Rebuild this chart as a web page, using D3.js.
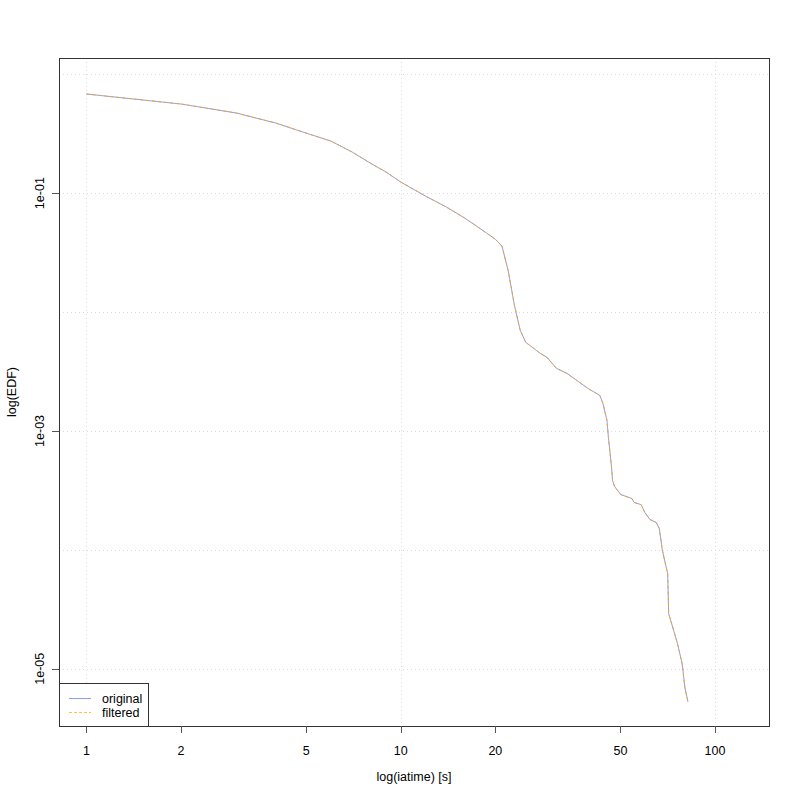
<!DOCTYPE html>
<html>
<head>
<meta charset="utf-8">
<script src="https://cdn.jsdelivr.net/npm/d3@7"></script>
<style>
  body { margin: 0; background: #fff; }
  svg { font-family: "Liberation Sans", Arial, sans-serif; }
</style>
</head>
<body>
<div id="chart"></div>
<script>
var iatime = [1, 2, 3, 4, 5, 6, 7, 8, 9, 10, 12, 14, 16, 18, 20, 21, 22, 23, 24, 25, 27.8, 29.2, 31.3, 33.8, 36.7, 39.4,
  43, 44, 45.3, 45.8, 46.9, 47.2, 47.9, 50.1, 54.4, 55.3, 58.2, 59.8, 62.1, 65, 66.5, 68, 70.7, 71.2, 72.3, 76, 78.6, 80.2, 82];
var edfOriginal = [0.682, 0.562, 0.472, 0.389, 0.320, 0.274, 0.222, 0.179, 0.150, 0.124, 0.0944, 0.0762, 0.0616, 0.0498,
  0.041, 0.0358, 0.022, 0.0114,
  0.00702, 0.00556, 0.00449, 0.00416, 0.00336, 0.00305, 0.00261, 0.00228, 0.00199, 0.0017, 0.00123, 0.000882, 0.000483,
  0.000383, 0.000341, 0.000292, 0.00027, 0.00025, 0.00024, 0.000206, 0.00018, 0.00017, 0.000151, 0.0000986, 0.0000631,
  0.000029, 0.0000254, 0.0000162, 0.000011, 0.00000692, 0.00000527];
var edfFiltered = edfOriginal.slice(); // the filtered curve lies on top of the original

var xTicks = [1, 2, 5, 10, 20, 50, 100];
var yTicks = [1e-1, 1e-3, 1e-5];
var yGrid = [1, 1e-1, 1e-2, 1e-3, 1e-4, 1e-5];
var legendNames = ["original", "filtered"];

var W = 800, H = 800;
var pLeft = 59, pRight = 769, pTop = 58, pBottom = 726;
var fs = 12.5;

var svg = d3.select("#chart").append("svg")
  .attr("width", W).attr("height", H);

var x = d3.scaleLog().domain([0.818, 148.5]).range([pLeft, pRight]);
var y = d3.scaleLog().domain([1.37, 3.3e-6]).range([pTop, pBottom]);

// grid
var grid = svg.append("g").attr("stroke", "#dcdcdc").attr("stroke-dasharray", "1,3").attr("stroke-width", 1);
grid.selectAll(".gx").data([1, 10, 100]).enter().append("line")
  .attr("x1", d => Math.round(x(d)) + 0.5).attr("x2", d => Math.round(x(d)) + 0.5)
  .attr("y1", pTop).attr("y2", pBottom);
grid.selectAll(".gy").data(yGrid).enter().append("line")
  .attr("x1", pLeft).attr("x2", pRight)
  .attr("y1", d => Math.round(y(d)) + 0.5).attr("y2", d => Math.round(y(d)) + 0.5);

// curves
var line = d3.line()
  .x((d, i) => x(iatime[i]))
  .y(d => y(d));

svg.append("path").datum(edfOriginal)
  .attr("fill", "none").attr("stroke", "#8aa0f0").attr("stroke-width", 1)
  .attr("d", line);
svg.append("path").datum(edfFiltered)
  .attr("fill", "none").attr("stroke", "#f5a623").attr("stroke-width", 1)
  .attr("stroke-dasharray", "3,3")
  .attr("d", line);

// box
svg.append("rect")
  .attr("x", pLeft + 0.5).attr("y", pTop + 0.5)
  .attr("width", pRight - pLeft).attr("height", pBottom - pTop)
  .attr("fill", "none").attr("stroke", "#333");

// x axis
var xAxis = svg.append("g");
xAxis.selectAll("line").data(xTicks).enter().append("line")
  .attr("x1", d => Math.round(x(d)) + 0.5).attr("x2", d => Math.round(x(d)) + 0.5)
  .attr("y1", pBottom).attr("y2", pBottom + 7)
  .attr("stroke", "#555");
xAxis.selectAll("text").data(xTicks).enter().append("text")
  .attr("x", d => x(d)).attr("y", 755)
  .attr("text-anchor", "middle").attr("font-size", fs).attr("fill", "#000")
  .text(d => d);

// y axis
var yAxis = svg.append("g");
yAxis.selectAll("line").data(yTicks).enter().append("line")
  .attr("x1", pLeft - 7).attr("x2", pLeft)
  .attr("y1", d => Math.round(y(d)) + 0.5).attr("y2", d => Math.round(y(d)) + 0.5)
  .attr("stroke", "#555");
yAxis.selectAll("text").data(yTicks).enter().append("text")
  .attr("transform", d => "translate(44," + y(d) + ") rotate(-90)")
  .attr("text-anchor", "middle").attr("font-size", fs).attr("fill", "#000")
  .text(d => "1e-0" + Math.round(-Math.log10(d)));

// axis titles
svg.append("text")
  .attr("x", (pLeft + pRight) / 2).attr("y", 781)
  .attr("text-anchor", "middle").attr("font-size", fs)
  .text("log(iatime) [s]");
svg.append("text")
  .attr("transform", "translate(16," + (pTop + pBottom) / 2 + ") rotate(-90)")
  .attr("text-anchor", "middle").attr("font-size", fs)
  .text("log(EDF)");

// legend
var lg = svg.append("g");
lg.append("rect")
  .attr("x", pLeft + 0.5).attr("y", 683.5).attr("width", 89).attr("height", pBottom - 683)
  .attr("fill", "#fff").attr("stroke", "#333");
lg.selectAll("line").data(legendNames).enter().append("line")
  .attr("x1", 69).attr("x2", 91)
  .attr("y1", (d, i) => 698.5 + i * 14).attr("y2", (d, i) => 698.5 + i * 14)
  .attr("stroke", (d, i) => i == 0 ? "#8aa0f0" : "#ffc04a")
  .attr("stroke-dasharray", (d, i) => i == 0 ? null : "3,2");
lg.selectAll("text").data(legendNames).enter().append("text")
  .attr("x", 102).attr("y", (d, i) => 702.5 + i * 14)
  .attr("font-size", fs).text(d => d);
</script>
</body>
</html>
